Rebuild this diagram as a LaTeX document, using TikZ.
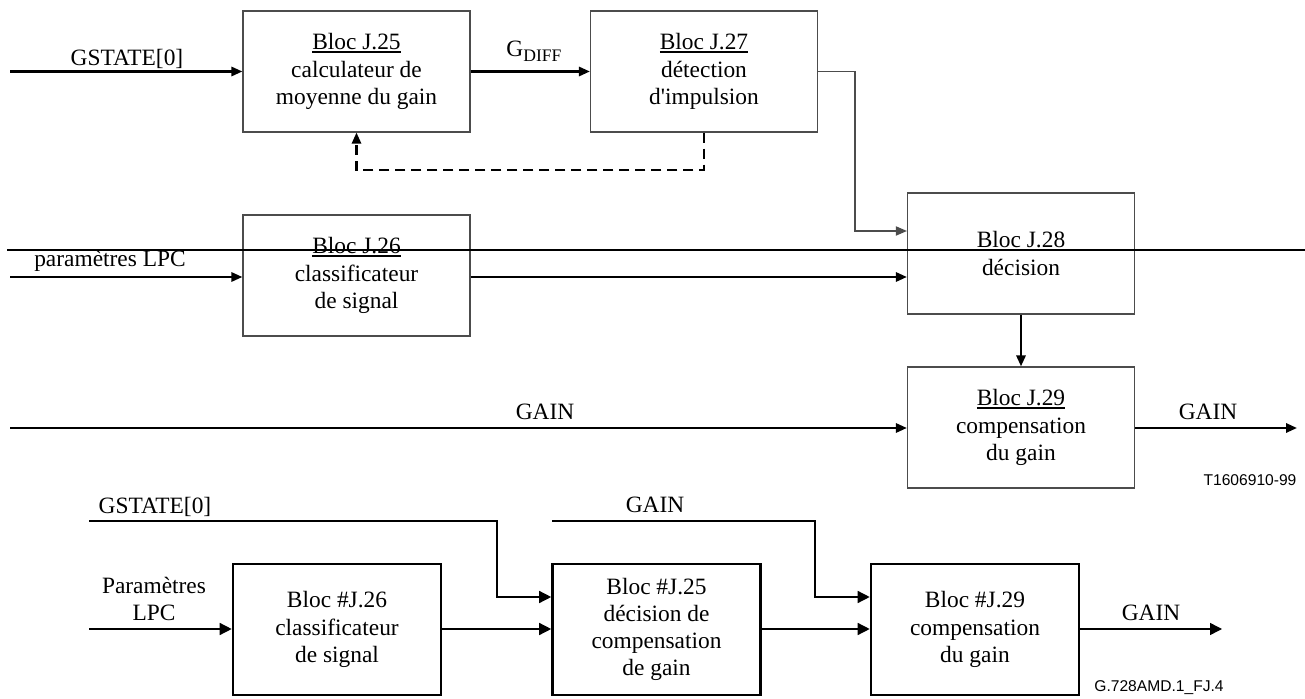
\documentclass[tikz,border=0pt]{standalone}
\usepackage{fontspec}
\setmainfont{Liberation Serif}
\newfontfamily\plainser{Liberation Serif}[Ligatures=TeXOff]
\newfontfamily\arialfont{Liberation Sans}
\usetikzlibrary{arrows.meta}
\newcommand\blocul[1]{{\setbox0\hbox{#1}\rlap{\rule[-1.7pt]{\wd0}{1.1pt}}\box0}}
\begin{document}
\begin{tikzpicture}[x=0.5pt,y=-0.5pt,
  every node/.style={font=\fontsize{11.7}{13.6}\selectfont, inner sep=0pt},
  topbox/.style={draw=black!70, line width=0.6pt, minimum width=113.5pt, minimum height=60.5pt, align=center},
  botbox/.style={draw=black, line width=1.3pt, minimum width=104pt, minimum height=65.5pt, align=center},
  mainline/.style={line width=1.2pt, -{Triangle[length=5.5pt,width=4.6pt]}},
  thinline/.style={line width=0.6pt, draw=black!70},
  dashline/.style={line width=1.1pt, dash pattern=on 5pt off 3pt, -{Triangle[length=5.5pt,width=4.6pt]}},
  botline/.style={line width=0.7pt, -{Triangle[length=6pt,width=6pt]}},
  lbl/.style={anchor=base},
  codelbl/.style={font=\arialfont\fontsize{7.8}{9}\selectfont},
  ]
\useasboundingbox (0,0) rectangle (1305,699);

% ---------- top diagram ----------
\node[topbox] (b25) at (356.5,71.5) {\blocul{Bloc J.25}\\calculateur de\\moyenne du gain};
\node[topbox] (b27) at (704,71.5) {\blocul{Bloc J.27}\\détection\\d{\plainser '}impulsion};
\node[topbox] (b26) at (356.5,275.5) {\blocul{Bloc J.26}\\classificateur\\de signal};
\node[topbox] (b28) at (1021,253.5) {\blocul{Bloc J.28}\\décision};
\node[topbox] (b29) at (1021,427.5) {\blocul{Bloc J.29}\\compensation\\du gain};

\coordinate (gs1) at (10,71.5);
\coordinate (lp1) at (10,277);
\coordinate (ga1) at (10,428);
\coordinate (ga1o) at (1297,428);
\coordinate (k1) at (855,231);
\coordinate (d1) at (356.5,170);
\coordinate (s1) at (7,250);
\coordinate (s2) at (1305,250);

\draw[mainline] (gs1) -- (gs1 -| b25.west);
\draw[mainline] (b25.east) -- (b27.west);
\draw[thinline, -{Triangle[length=5.5pt,width=4.6pt]}] (b27.east) -| (k1) -- (k1 -| b28.west);
\draw[dashline] (b27.south) |- (d1) -- (b25.south);
\draw[mainline] (lp1) -- (lp1 -| b26.west);
\draw[mainline] (lp1 -| b26.east) -- (lp1 -| b28.west);
\draw[mainline] (b28.south) -- (b29.north);
\draw[mainline] (ga1) -- (ga1 -| b29.west);
\draw[mainline] (ga1 -| b29.east) -- (ga1o);
\draw[line width=1.3pt] (s1) -- (s2);

\node[lbl] (t1) at (127,66) {GSTATE[0]};
\node[lbl] (t2) at (534,57) {G\raisebox{-0.45ex}{\fontsize{8.8}{9}\selectfont DIFF}};
\node[lbl] (t3) at (110,267) {paramètres LPC};
\node[lbl] (t4) at (545,420) {GAIN};
\node[lbl] (t5) at (1208,420) {GAIN};
\node[codelbl, anchor=base] (t6) at (1250,486) {T1606910-99};

% ---------- bottom diagram ----------
\node[botbox] (c26) at (337,629.5) {Bloc \#J.26\\classificateur\\de signal};
\node[botbox] (c25) at (656.5,629.5) {Bloc \#J.25\\décision de\\compensation\\de gain};
\node[botbox] (c29) at (975,629.5) {Bloc \#J.29\\compensation\\du gain};

\coordinate (g2a) at (89,521);
\coordinate (g2b) at (497,597);
\coordinate (lp2) at (89,629);
\coordinate (ga2a) at (552,521);
\coordinate (ga2b) at (815,597);
\coordinate (out2) at (1222,629);

\draw[botline] (g2a) -| (g2b) -- (g2b -| c25.west);
\draw[botline] (lp2) -- (lp2 -| c26.west);
\draw[botline] (lp2 -| c26.east) -- (lp2 -| c25.west);
\draw[botline] (ga2a) -| (ga2b) -- (ga2b -| c29.west);
\draw[botline] (lp2 -| c25.east) -- (lp2 -| c29.west);
\draw[botline] (lp2 -| c29.east) -- (out2);

\node[lbl] (u1) at (155,513) {GSTATE[0]};
\node[align=center] (u2) at (154,599) {Paramètres\\LPC};
\node[lbl] (u3) at (655,512) {GAIN};
\node[lbl] (u4) at (1151,620) {GAIN};
\node[codelbl, anchor=base] (u5) at (1159,691) {G.728AMD.1\_FJ.4};
\end{tikzpicture}
\end{document}
